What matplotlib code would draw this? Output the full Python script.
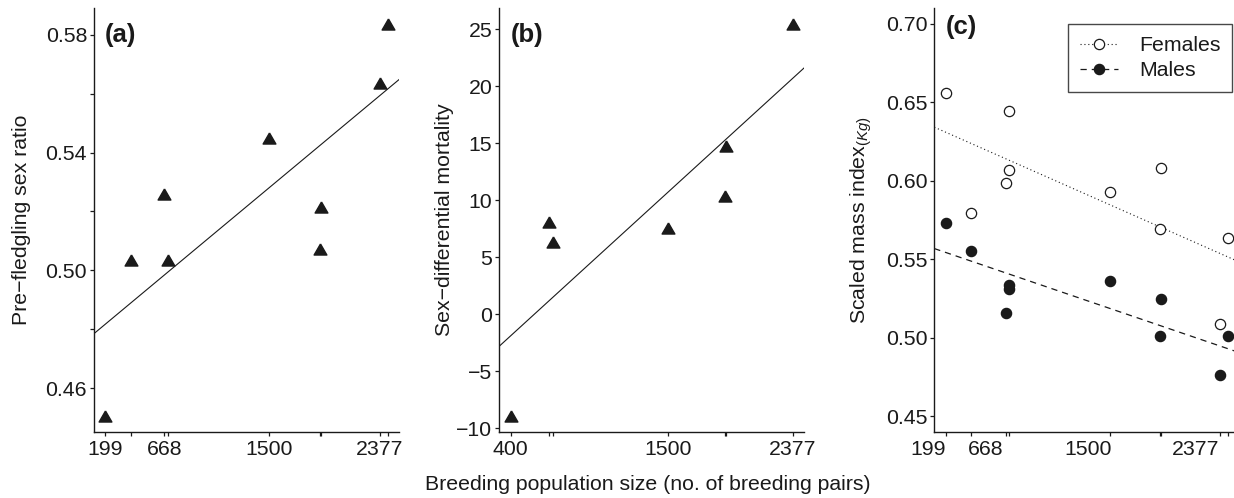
import numpy as np
import matplotlib.pyplot as plt
from matplotlib.lines import Line2D

# (a) pre-fledgling sex ratio
pop_a = [199, 400, 668, 700, 1500, 1900, 1910, 2377, 2440]
sex_ratio = [0.4504, 0.5036, 0.5258, 0.5036, 0.5451, 0.5071, 0.5216, 0.5635, 0.5837]
fit_a = [0.4746, 3.566e-5]          # intercept, slope
labels_a = [199, 668, 1500, 2377]

# (b) sex-differential mortality
pop_b = [400, 668, 700, 1500, 1900, 1910, 2377]
mortality = [-8.97, 8.04, 6.32, 7.54, 10.39, 14.71, 25.44]
fit_b = [-6.49, 0.011438]
labels_b = [400, 1500, 2377]

# (c) scaled mass index
pop_c = [340, 549, 829, 856, 856, 1679, 2092, 2100, 2575, 2644]
females = [0.6558, 0.5798, 0.5985, 0.6070, 0.6447, 0.5930, 0.5696, 0.6081, 0.5089, 0.5634]
males = [0.5732, 0.5551, 0.5160, 0.5336, 0.5309, 0.5362, 0.5011, 0.5249, 0.4762, 0.5011]
fit_f = [0.6428, -3.452e-5]
fit_m = [0.5635, -2.664e-5]
labels_c = [199, 668, 1500, 2377]

INK = '#1a1a1a'
FS = 15.3
plt.rcParams['font.family'] = ['Liberation Sans', 'DejaVu Sans']
plt.rcParams['mathtext.fontset'] = 'custom'
plt.rcParams['mathtext.rm'] = 'Liberation Sans'
plt.rcParams['mathtext.it'] = 'Liberation Sans:italic'
plt.rcParams['text.color'] = INK

# equilateral triangle like R's pch 17
tri = [(0, 0.866), (-1, -0.866), (1, -0.866), (0, 0.866)]


def rlim(vals, lo=None, hi=None):
    lo = min(vals) if lo is None else lo
    hi = max(vals) if hi is None else hi
    d = 0.04 * (hi - lo)
    return lo - d, hi + d


def style_axis(ax, xticks, xlabels):
    for s in ['top', 'right']:
        ax.spines[s].set_visible(False)
    for s in ['left', 'bottom']:
        ax.spines[s].set_linewidth(1.0)
        ax.spines[s].set_color(INK)
    ax.set_xticks(sorted(set(xticks)))
    ax.set_xticklabels([])
    ax.tick_params(length=3, width=0.9, color=INK, labelsize=FS, labelcolor=INK, pad=2)
    for v in xlabels:
        ax.annotate(str(v), xy=(v, 0), xycoords=('data', 'axes fraction'),
                    xytext=(0, -16.5), textcoords='offset points',
                    ha='center', va='baseline', fontsize=FS, annotation_clip=False)


fig = plt.figure(figsize=(12.34, 4.98), dpi=100)
W, H = 1234, 498
bottom = (H - 432) / H
height = (432 - 8.3) / H
width = 305 / W
ymid = bottom + height / 2

# panel (a)
ax1 = fig.add_axes([94 / W, bottom, width, height])
ax1.set_xlim(rlim(pop_a))
ax1.set_ylim(rlim(sex_ratio))
xs = np.array(ax1.get_xlim())
ax1.plot(xs, fit_a[0] + fit_a[1] * xs, color=INK, lw=0.8)
ax1.plot(pop_a, sex_ratio, linestyle='none', marker=tri, ms=9.2, color=INK)
style_axis(ax1, pop_a, labels_a)
yt = [0.46, 0.48, 0.50, 0.52, 0.54, 0.56, 0.58]
ax1.set_yticks(yt)
ax1.set_yticklabels(['%.2f' % v if i % 2 == 0 else '' for i, v in enumerate(yt)])
ax1.text(0.036, 0.937, '(a)', transform=ax1.transAxes, fontsize=18.5, fontweight='bold', va='center')
fig.text(22 / W, ymid, 'Pre\u2212fledgling sex ratio', rotation=90,
         ha='center', va='center', fontsize=FS)

# panel (b)
ax2 = fig.add_axes([499.3 / W, bottom, width, height])
ax2.set_xlim(rlim(pop_b))
ax2.set_ylim(rlim(mortality))
xs = np.array(ax2.get_xlim())
ax2.plot(xs, fit_b[0] + fit_b[1] * xs, color=INK, lw=0.8)
ax2.plot(pop_b, mortality, linestyle='none', marker=tri, ms=9.2, color=INK)
style_axis(ax2, pop_b, labels_b)
yt = [-10, -5, 0, 5, 10, 15, 20, 25]
ax2.set_yticks(yt)
ax2.set_yticklabels([str(v).replace('-', '\u2212') for v in yt])
ax2.text(0.036, 0.937, '(b)', transform=ax2.transAxes, fontsize=18.5, fontweight='bold', va='center')
fig.text(445 / W, ymid, 'Sex\u2212differential mortality', rotation=90,
         ha='center', va='center', fontsize=FS)

# panel (c)
ax3 = fig.add_axes([934.3 / W, bottom, width, height])
ax3.set_xlim(rlim(pop_c))
ax3.set_ylim(rlim([], 0.45, 0.70))
xs = np.array(ax3.get_xlim())
ax3.plot(xs, fit_f[0] + fit_f[1] * xs, color=INK, lw=0.8, linestyle=(0, (1, 2.5)))
ax3.plot(xs, fit_m[0] + fit_m[1] * xs, color=INK, lw=0.9, linestyle=(0, (5, 4)))
ax3.plot(pop_c, females, linestyle='none', marker='o', ms=7.4, mfc='white', mec=INK, mew=0.9)
ax3.plot(pop_c, males, linestyle='none', marker='o', ms=7.4, mfc=INK, mec=INK, mew=0.9)
style_axis(ax3, pop_c, labels_c)
yt = [0.45, 0.50, 0.55, 0.60, 0.65, 0.70]
ax3.set_yticks(yt)
ax3.set_yticklabels(['%.2f' % v for v in yt])
ax3.text(0.036, 0.956, '(c)', transform=ax3.transAxes, fontsize=18.5, fontweight='bold', va='center')
fig.text(861 / W, ymid, r'Scaled mass index$_{\mathit{(Kg)}}$', rotation=90,
         ha='center', va='center', fontsize=FS)

handles = [
    Line2D([], [], color=INK, lw=0.8, linestyle=(0, (1, 2.5)), marker='o', ms=7.4,
           mfc='white', mec=INK, mew=0.9),
    Line2D([], [], color=INK, lw=0.9, linestyle=(0, (5, 4)), marker='o', ms=7.4,
           mfc=INK, mec=INK, mew=0.9),
]
leg = fig.legend(handles, ['Females', 'Males'], loc='upper right',
                 bbox_to_anchor=(1232.3 / W, (H - 24.3) / H), fontsize=FS,
                 frameon=True, fancybox=False, edgecolor=INK, borderpad=0.55,
                 handlelength=1.8, handletextpad=1.0, labelspacing=0.3, borderaxespad=0)
leg.get_frame().set_linewidth(1.0)

fig.text(648 / W, (H - 484) / H, 'Breeding population size (no. of breeding pairs)',
         ha='center', va='center', fontsize=FS)

plt.savefig('out.png', dpi=100)
